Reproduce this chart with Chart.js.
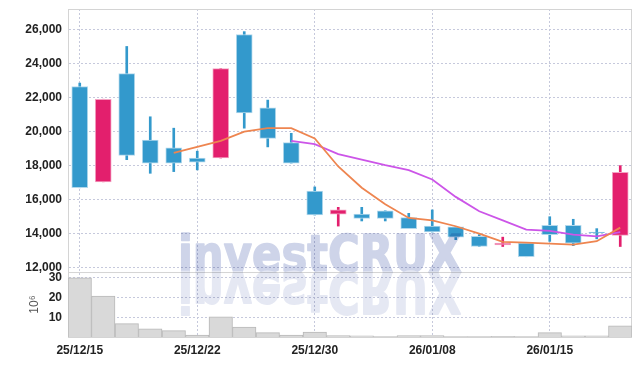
<!DOCTYPE html>
<html>
<head>
<meta charset="utf-8">
<script src="https://cdn.jsdelivr.net/npm/chart.js@4.4.1/dist/chart.umd.min.js"></script>
<style>
  html, body { margin: 0; padding: 0; background: #fff; }
  #wrap { width: 642px; height: 366px; position: relative; }
</style>
</head>
<body>
<div id="wrap"><canvas id="stockChart"></canvas></div>
<script>
// 거래일
const dates = ['25/12/15','25/12/16','25/12/17','25/12/18','25/12/19','25/12/22','25/12/23','25/12/24',
  '25/12/26','25/12/29','25/12/30','26/01/02','26/01/05','26/01/06','26/01/07','26/01/08','26/01/09',
  '26/01/12','26/01/13','26/01/14','26/01/15','26/01/16','26/01/19','26/01/20'];

// 시가 / 종가 / 고가 / 저가
const openPrices  = [22650,17050,23400,19500,19050,18450,18450,25700,21400,19350,16500,15150,15150,15350,14950,14450,14400,13850,13350,13450,14500,14500,14100,13900];
const closePrices = [16700,21900,18600,18150,18150,18200,23700,21100,19600,18150,15100,15400,14900,14900,14300,14100,13800,13250,13450,12650,13950,13450,14050,17600];
const highPrices  = [22850,21900,25000,20870,20200,18850,23700,25870,21850,19900,16750,15550,15550,15350,15200,15400,14400,13950,13800,13450,15000,14850,14300,18000];
const lowPrices   = [16700,17050,18350,17550,17650,17750,18450,20200,19100,18150,15100,14450,14750,14750,14300,14100,13650,13250,13250,12650,13550,13300,13700,13250];

// 이동평균선
const ma5  = [null,null,null,null,18750,19100,19450,20000,20200,20200,19600,17950,16700,15730,14930,14790,14440,14010,13520,13480,13420,13360,13560,14360];
const ma10 = [null,null,null,null,null,null,null,null,null,19450,19260,18680,18360,18030,17735,17190,16165,15320,14790,14245,14165,13950,13850,14100];

// 거래량 (10^6)
const volumes = [30.0,20.8,6.8,4.1,3.2,1.0,10.2,5.1,2.2,1.0,2.5,0.7,0.6,0.2,0.7,0.7,0.2,0.2,0.3,0.2,2.2,0.6,0.6,5.7];

const priceTicks = [12000,14000,16000,18000,20000,22000,24000,26000];
const volumeTicks = [10,20,30];

const UP = '#e31f6d', DOWN = '#3399cc';
const UP_EDGE = '#f3a3c2', DOWN_EDGE = '#b2d8ec';
const GRID = '#c6c9dc';
const FONT = "'Liberation Sans', Arial, sans-serif";

const isUp = openPrices.map((o, i) => closePrices[i] >= o);
const candleColor = isUp.map(u => u ? UP : DOWN);
const candleEdge = isUp.map(u => u ? UP_EDGE : DOWN_EDGE);

// 패널 테두리 + 워터마크
const frame = {
  id: 'frame',
  beforeDatasetsDraw(chart) {
    const { ctx, chartArea: a } = chart;
    const split = chart.scales.yv.top;
    ctx.save();
    ctx.strokeStyle = '#d4d4d4';
    ctx.lineWidth = 1;
    ctx.strokeRect(a.left + 0.5, a.top + 0.5, a.right - a.left - 1, a.bottom - a.top);
    ctx.beginPath();
    ctx.moveTo(a.left, split + 0.5);
    ctx.lineTo(a.right, split + 0.5);
    ctx.stroke();
    ctx.restore();
  },
  // 워터마크는 따로 그린 뒤 곱하기로 얹어서 캔들이 비쳐 보이게 함
  afterDatasetsDraw(chart) {
    const { ctx, chartArea: a, width, height } = chart;
    const split = chart.scales.yv.top;
    const off = document.createElement('canvas');
    off.width = width; off.height = height;
    const o = off.getContext('2d');
    o.fillStyle = '#fff';
    o.fillRect(0, 0, width, height);
    o.font = "bold 51px 'DejaVu Sans', sans-serif";
    o.lineJoin = 'round';
    o.lineWidth = 1.6;
    o.translate(a.left + 110, split);
    o.scale(0.85, 1);
    o.fillStyle = o.strokeStyle = 'rgb(206,212,233)';
    o.fillText('investCRUX', 0, 0);
    o.strokeText('investCRUX', 0, 0);
    o.scale(1, -1.1);
    o.fillStyle = o.strokeStyle = 'rgb(229,232,243)';
    o.fillText('investCRUX', 0, 0);
    o.strokeText('investCRUX', 0, 0);
    ctx.save();
    ctx.beginPath();
    ctx.rect(a.left, a.top, a.right - a.left, a.bottom - a.top);
    ctx.clip();
    ctx.globalCompositeOperation = 'multiply';
    ctx.drawImage(off, 0, 0, width, height);
    ctx.restore();
  }
};

const tickFont = { family: FONT, size: 12, weight: 'bold' };

// 눈금 글자 때문에 생기는 위아래 여백 제거
const fitLeft = s => { s.width = 68; s.paddingTop = 0; s.paddingBottom = 0; };

new Chart(document.getElementById('stockChart'), {
  type: 'bar',
  data: {
    labels: dates,
    datasets: [
      {
        type: 'line', label: 'MA5', data: ma5, yAxisID: 'y',
        borderColor: '#ee8550', borderWidth: 1.8, pointRadius: 0, tension: 0, order: 0
      },
      {
        type: 'line', label: 'MA10', data: ma10, yAxisID: 'y',
        borderColor: '#cc55e8', borderWidth: 1.8, pointRadius: 0, tension: 0, order: 1
      },
      {
        label: 'body', data: openPrices.map((o, i) => [o, closePrices[i]]), yAxisID: 'y',
        backgroundColor: candleColor, borderColor: candleEdge, borderWidth: 1, borderSkipped: false,
        barThickness: 16, grouped: false, order: 2
      },
      {
        label: 'wick', data: lowPrices.map((l, i) => [l, highPrices[i]]), yAxisID: 'y',
        backgroundColor: candleColor, barThickness: 2, grouped: false, order: 3
      },
      {
        label: 'volume', data: volumes, yAxisID: 'yv',
        backgroundColor: '#d9d9d9', borderColor: '#b8b8b8', borderWidth: 1,
        barPercentage: 1, categoryPercentage: 1, grouped: false, order: 4
      }
    ]
  },
  options: {
    responsive: true,
    maintainAspectRatio: false,
    animation: false,
    layout: { padding: { top: 9, right: 10, left: 0, bottom: 0 } },
    plugins: { legend: { display: false }, tooltip: { enabled: false } },
    scales: {
      x: {
        offset: true,
        grid: { offset: false, drawTicks: false, color: c => c.index % 5 === 0 ? GRID : 'transparent' },
        border: { display: false, dash: [2, 2] },
        ticks: {
          autoSkip: false, maxRotation: 0, padding: 6, color: '#222', font: tickFont,
          callback: (v, i) => i % 5 === 0 ? dates[i] : ''
        },
        afterFit: s => { s.height = 29; }
      },
      yv: {
        position: 'left', stack: 'panel', stackWeight: 1,
        min: 0, max: 33,
        grid: { drawTicks: false, color: GRID },
        border: { color: '#c8c8c8', dash: [2, 2] },
        afterBuildTicks: s => { s.ticks = volumeTicks.map(v => ({ value: v })); },
        ticks: { autoSkip: false, padding: 6, color: '#222', font: tickFont },
        title: { display: true, text: '10⁶', color: '#555', font: { family: FONT, size: 12 }, padding: { top: 27 } },
        afterFit: fitLeft
      },
      y: {
        position: 'left', stack: 'panel', stackWeight: 4.05,
        min: 11750, max: 27200,
        grid: { drawTicks: false, color: GRID },
        border: { color: '#c8c8c8', dash: [2, 2] },
        afterBuildTicks: s => { s.ticks = priceTicks.map(v => ({ value: v })); },
        ticks: { autoSkip: false, padding: 6, color: '#222', font: tickFont, callback: v => v.toLocaleString('en-US') },
        afterFit: fitLeft
      }
    }
  },
  plugins: [frame]
});
</script>
</body>
</html>
